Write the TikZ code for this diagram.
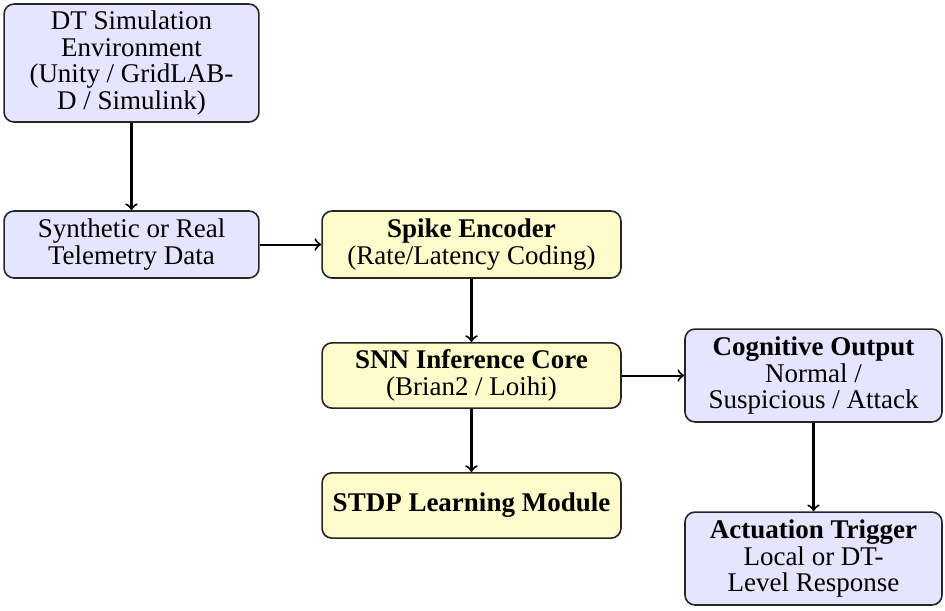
\documentclass[tikz,border=0pt]{standalone}
\usepackage{fontspec}
\setmainfont{Liberation Serif}
\begin{document}
\begin{tikzpicture}[x=0.37037pt,y=-0.37037pt,
  box/.style={draw=black!85, rounded corners=3.7pt, line width=0.6pt, align=center, inner sep=2pt,
    font=\fontsize{10}{9.9}\selectfont},
  bluebox/.style={box, fill=blue!10},
  yelbox/.style={box, fill=yellow!20},
  arr/.style={->, line width=0.75pt, >=to}]
\useasboundingbox (0,0) rectangle (945,610);
\node[bluebox, minimum width=94.4pt, minimum height=43.7pt] (dt) at (131.5,63)
  {DT Simulation\\Environment\\(Unity / GridLAB-\\D / Simulink)};
\node[bluebox, minimum width=94.4pt, minimum height=24.8pt] (syn) at (131.5,244.5)
  {Synthetic or Real\\Telemetry Data};
\node[yelbox, minimum width=110.7pt, minimum height=24.8pt] (enc) at (471.5,244.5)
  {\textbf{Spike Encoder}\\(Rate/Latency Coding)};
\node[yelbox, minimum width=110.7pt, minimum height=24.2pt] (snn) at (471.5,375.5)
  {\textbf{SNN Inference Core}\\(Brian2 / Loihi)};
\node[yelbox, minimum width=110.7pt, minimum height=24.2pt] (stdp) at (471.5,505.5)
  {\textbf{STDP Learning Module}};
\node[bluebox, minimum width=95.2pt, minimum height=34.4pt] (cog) at (813.5,375.5)
  {\textbf{Cognitive Output}\\Normal /\\Suspicious / Attack};
\node[bluebox, minimum width=95.2pt, minimum height=34.4pt] (act) at (813.5,558.5)
  {\textbf{Actuation Trigger}\\Local or DT-\\Level Response};
\draw[arr] (dt) -- (syn);
\draw[arr] (syn) -- (enc);
\draw[arr] (enc) -- (snn);
\draw[arr] (snn) -- (stdp);
\draw[arr] (snn) -- (cog);
\draw[arr] (cog) -- (act);
\end{tikzpicture}
\end{document}
